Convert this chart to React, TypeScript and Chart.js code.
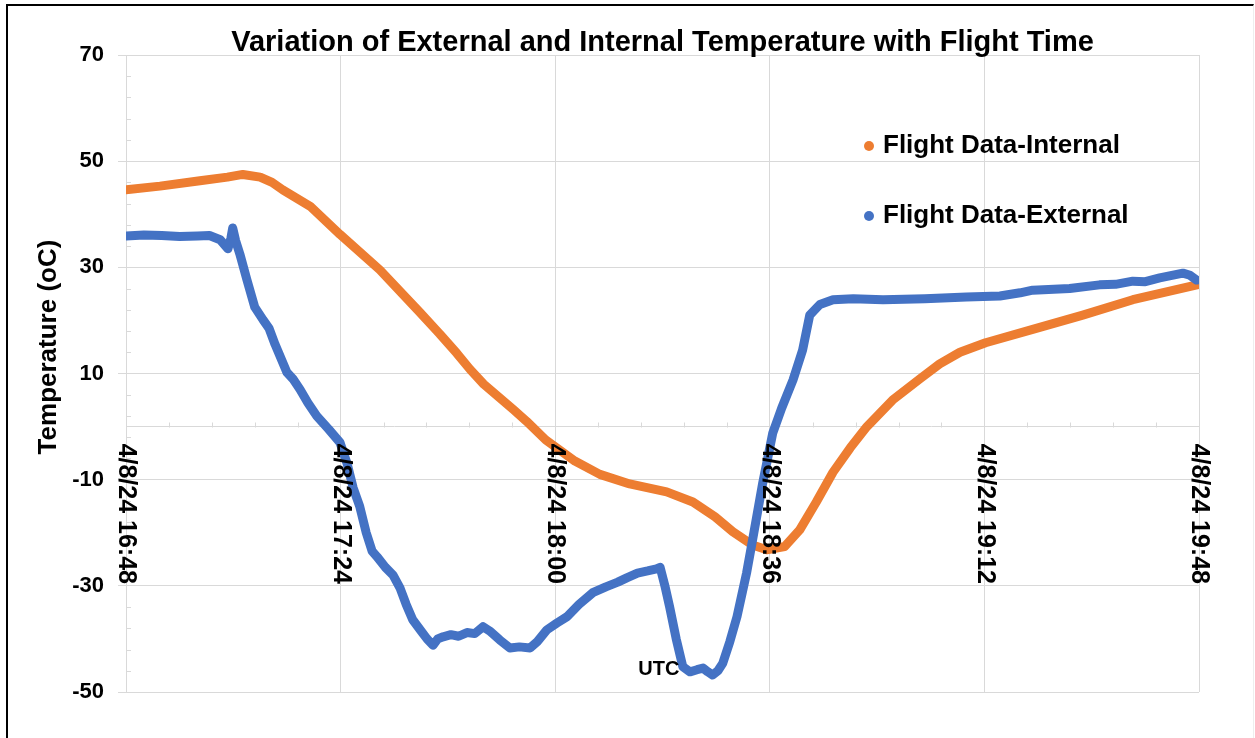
import { useEffect, useRef } from "react";
import { Chart, registerables } from "chart.js";

Chart.register(...registerables);

const TITLE = "Variation of External and Internal Temperature with Flight Time";
const Y_TITLE = "Temperature (oC)";
const SERIES_INTERNAL = "Flight Data-Internal";
const SERIES_EXTERNAL = "Flight Data-External";
const NOTE_TEXT = "UTC";

// minutes after 4/8/24 16:48
const X_TICK_VALUES = [0, 36, 72, 108, 144, 180];
const X_TICK_LABELS = [
  "4/8/24 16:48",
  "4/8/24 17:24",
  "4/8/24 18:00",
  "4/8/24 18:36",
  "4/8/24 19:12",
  "4/8/24 19:48",
];
const X_MINOR_STEP = 7.2;
const Y_MIN = -50;
const Y_MAX = 70;
const Y_STEP = 20;
const Y_MINOR_STEP = 4;

const INTERNAL_T = [
  0, 5.7, 12.4, 17, 19.6, 22.5, 24.5, 26.3, 30.9, 35.9, 42.6, 49.3, 52.6, 55.5,
  57.7, 60.0, 62.5, 65.0, 67.2, 70.4, 75.3, 79.5, 84.5, 90.7, 95.1, 98.8, 101.8,
  105.1, 107.5, 110.5, 113.0, 115.8, 118.6, 121.5, 124.3, 128.6, 133.2, 136.5,
  139.9, 144.2, 152.1, 160.5, 168.9, 180,
];
const INTERNAL_V = [
  44.6, 45.3, 46.3, 47.0, 47.5, 47.0, 46.0, 44.6, 41.5, 36.2, 29.5, 21.5, 17.5,
  13.8, 10.8, 8.0, 5.6, 3.2, 1.0, -2.5, -6.5, -9.0, -10.8, -12.3, -14.2, -17,
  -19.8, -22.3, -23.2, -22.6, -19.5, -14.2, -8.6, -4.0, 0, 5, 9, 11.8, 14.0,
  15.8, 18.3, 21.0, 23.9, 26.8,
];

const EXTERNAL_T = [
  0, 3, 6, 9, 12, 14, 15.8, 17.1, 17.6, 17.9, 18.4, 19.1, 20.3, 21.6, 23.0,
  24.0, 25.0, 27.0, 28.0, 29.2, 30.5, 32.0, 34.0, 35.9, 37.1, 38.1, 39.2, 40.3,
  41.3, 42.1, 43.5, 44.8, 46.0, 47.0, 48.1, 49.5, 50.5, 51.5, 52.3, 53.2, 54.5,
  55.8, 57.2, 58.5, 59.9, 61.0, 62.7, 64.4, 66.0, 67.8, 69.0, 70.6, 72.3, 74.0,
  76.0, 78.3, 80.5, 82.5, 84.0, 85.8, 87.5, 89.0, 89.6, 90.4, 91.2, 92.3, 93.4,
  94.6, 95.8, 96.8, 97.6, 98.4, 99.3, 100.1, 101.3, 102.5, 104.1, 105.1, 106.8,
  108.5, 110.0, 111.9, 113.5, 114.7, 116.4, 118.6, 122, 127, 134, 141, 146.6,
  150, 152.1, 158.3, 163.3, 166, 168.9, 171, 173.4, 177.3, 178.5, 179.6,
];
const EXTERNAL_V = [
  35.9, 36.1, 36.0, 35.8, 35.9, 36.0, 35.2, 33.5, 35.5, 37.4, 35.0, 32.5, 27.6,
  22.5, 20.1, 18.5, 15.5, 10.2, 9.0, 7.0, 4.5, 2.0, -0.5, -3.0, -7, -11.5, -15,
  -20, -23.5, -24.5, -26.5, -28, -30.5, -33.5, -36.4, -38.5, -40, -41.2, -40.0,
  -39.6, -39.2, -39.5, -38.8, -39, -37.7, -38.5, -40.2, -41.7, -41.5, -41.7,
  -40.5, -38.3, -37, -35.8, -33.5, -31.3, -30.2, -29.3, -28.5, -27.6, -27.2,
  -26.8, -26.5, -30, -34, -40, -45.2, -46.2, -45.8, -45.5, -46.2, -46.8, -46,
  -44.6, -40.5, -35.8, -27.6, -21.4, -10.7, -1.2, 3.5, 8.8, 14.4, 21.0, 23.0,
  23.9, 24.1, 23.9, 24.1, 24.4, 24.6, 25.2, 25.7, 26.0, 26.7, 26.8, 27.4, 27.3,
  28, 28.9, 28.5, 27.6,
];

const NOTE_T = 89.4;
const NOTE_V = -45.8;

const FONT = "'Liberation Sans', Arial, Helvetica, sans-serif";
const ORANGE = "#ED7D31";
const BLUE = "#4472C4";
const GRID = "#D9D9D9";

function isMultiple(v: number, step: number) {
  const r = v / step;
  return Math.abs(r - Math.round(r)) < 1e-6;
}

export default function App() {
  const ref = useRef<HTMLCanvasElement>(null);

  useEffect(() => {
    if (!ref.current) return;

    const decor = {
      id: "decor",
      beforeDatasetsDraw(chart: any) {
        const { ctx, chartArea: a, scales } = chart;
        const xs = scales.x;
        const ys = scales.y;
        const y0 = Math.round(ys.getPixelForValue(0)) + 0.5;
        ctx.save();
        ctx.strokeStyle = GRID;
        ctx.lineWidth = 1;
        ctx.beginPath();
        const xMajor = X_TICK_VALUES[1] - X_TICK_VALUES[0];
        const nX = Math.round((X_TICK_VALUES[X_TICK_VALUES.length - 1] - X_TICK_VALUES[0]) / X_MINOR_STEP);
        for (let k = 0; k <= nX; k++) {
          const v = X_TICK_VALUES[0] + k * X_MINOR_STEP;
          if (isMultiple(v, xMajor)) continue;
          const px = Math.round(xs.getPixelForValue(v)) + 0.5;
          ctx.moveTo(px, y0);
          ctx.lineTo(px, y0 - 5);
        }
        const nY = Math.round((Y_MAX - Y_MIN) / Y_MINOR_STEP);
        for (let k = 0; k <= nY; k++) {
          const v = Y_MIN + k * Y_MINOR_STEP;
          if (isMultiple(v - Y_MIN, Y_STEP)) continue;
          const py = Math.round(ys.getPixelForValue(v)) + 0.5;
          ctx.moveTo(a.left, py);
          ctx.lineTo(a.left + 5, py);
        }
        ctx.stroke();
        ctx.restore();
      },
      afterDraw(chart: any) {
        const { ctx, chartArea: a, scales } = chart;
        const xs = scales.x;
        const ys = scales.y;
        const y0 = ys.getPixelForValue(0);
        ctx.save();
        ctx.fillStyle = "#000";

        // rotated x tick labels (top-to-bottom)
        ctx.font = `bold 25px ${FONT}`;
        ctx.textAlign = "left";
        ctx.textBaseline = "middle";
        X_TICK_VALUES.forEach((v, i) => {
          const px = xs.getPixelForValue(v);
          ctx.save();
          ctx.translate(px, y0 + 17);
          ctx.rotate(Math.PI / 2);
          ctx.fillText(X_TICK_LABELS[i], 0, 0);
          ctx.restore();
        });

        // y axis title
        ctx.save();
        ctx.font = `bold 26px ${FONT}`;
        ctx.textAlign = "center";
        ctx.textBaseline = "middle";
        ctx.translate(a.left - 77, a.top + 292);
        ctx.rotate(-Math.PI / 2);
        ctx.fillText(Y_TITLE, 0, 0);
        ctx.restore();

        // legend
        const items = [0, 1].map((i) => chart.data.datasets[i]);
        items.forEach((ds: any, i: number) => {
          const cy = a.top + 91 + i * 70;
          const cx = a.left + 743;
          ctx.beginPath();
          ctx.fillStyle = ds.borderColor;
          ctx.arc(cx, cy, 5, 0, Math.PI * 2);
          ctx.fill();
          ctx.fillStyle = "#000";
          ctx.font = `bold 26px ${FONT}`;
          ctx.textAlign = "left";
          ctx.textBaseline = "middle";
          ctx.fillText(ds.label, cx + 14, cy);
        });

        // note
        ctx.font = `bold 20px ${FONT}`;
        ctx.textAlign = "center";
        ctx.textBaseline = "middle";
        ctx.fillStyle = "#000";
        ctx.fillText(NOTE_TEXT, xs.getPixelForValue(NOTE_T), ys.getPixelForValue(NOTE_V));

        ctx.restore();
      },
    };

    const chart = new Chart(ref.current, {
      type: "line",
      data: {
        datasets: [
          {
            label: SERIES_INTERNAL,
            data: INTERNAL_T.map((t, i) => ({ x: t, y: INTERNAL_V[i] })),
            borderColor: ORANGE,
            backgroundColor: ORANGE,
            order: 1,
          },
          {
            label: SERIES_EXTERNAL,
            data: EXTERNAL_T.map((t, i) => ({ x: t, y: EXTERNAL_V[i] })),
            borderColor: BLUE,
            backgroundColor: BLUE,
            order: 0,
          },
        ],
      },
      options: {
        responsive: false,
        animation: false,
        events: [],
        elements: {
          line: { borderWidth: 9, tension: 0, borderJoinStyle: "round", borderCapStyle: "round" },
          point: { radius: 0, hoverRadius: 0 },
        },
        layout: { padding: { left: 0, right: 56, top: 0, bottom: 46 } },
        plugins: {
          legend: { display: false },
          tooltip: { enabled: false },
          title: {
            display: true,
            fullSize: false,
            text: TITLE,
            color: "#000",
            font: { family: FONT, size: 29, weight: "bold", lineHeight: 0.8 },
            padding: { top: 31.8, bottom: 0 },
          },
        },
        scales: {
          x: {
            type: "linear",
            min: X_TICK_VALUES[0],
            max: X_TICK_VALUES[X_TICK_VALUES.length - 1],
            position: { y: 0 } as any,
            ticks: { display: false, stepSize: X_TICK_VALUES[1] - X_TICK_VALUES[0] },
            grid: { color: GRID, drawTicks: false, lineWidth: 1 },
            border: { color: GRID, width: 1 },
            afterFit: (s: any) => {
              s.height = 0;
            },
          },
          y: {
            type: "linear",
            min: Y_MIN,
            max: Y_MAX,
            ticks: {
              stepSize: Y_STEP,
              color: "#000",
              padding: 14,
              font: { family: FONT, size: 22, weight: "bold" },
            },
            grid: { color: GRID, tickLength: 8, lineWidth: 1 },
            border: { color: GRID, width: 1 },
            afterFit: (s: any) => {
              s.width = 126;
            },
          },
        },
      },
      plugins: [decor],
    } as any);

    return () => chart.destroy();
  }, []);

  return (
    <div style={{ position: "absolute", left: 0, top: 0, width: 1255, height: 738, background: "#fff", overflow: "hidden" }}>
      <canvas ref={ref} width={1255} height={738} style={{ display: "block", position: "absolute", left: 0, top: 0 }} />
      <div
        style={{
          position: "absolute",
          left: 6,
          top: 4,
          width: 1245,
          height: 800,
          borderLeft: "2.5px solid #000",
          borderTop: "2.5px solid #000",
          borderRight: "1px solid #eeeeee",
          pointerEvents: "none",
        }}
      />
    </div>
  );
}
